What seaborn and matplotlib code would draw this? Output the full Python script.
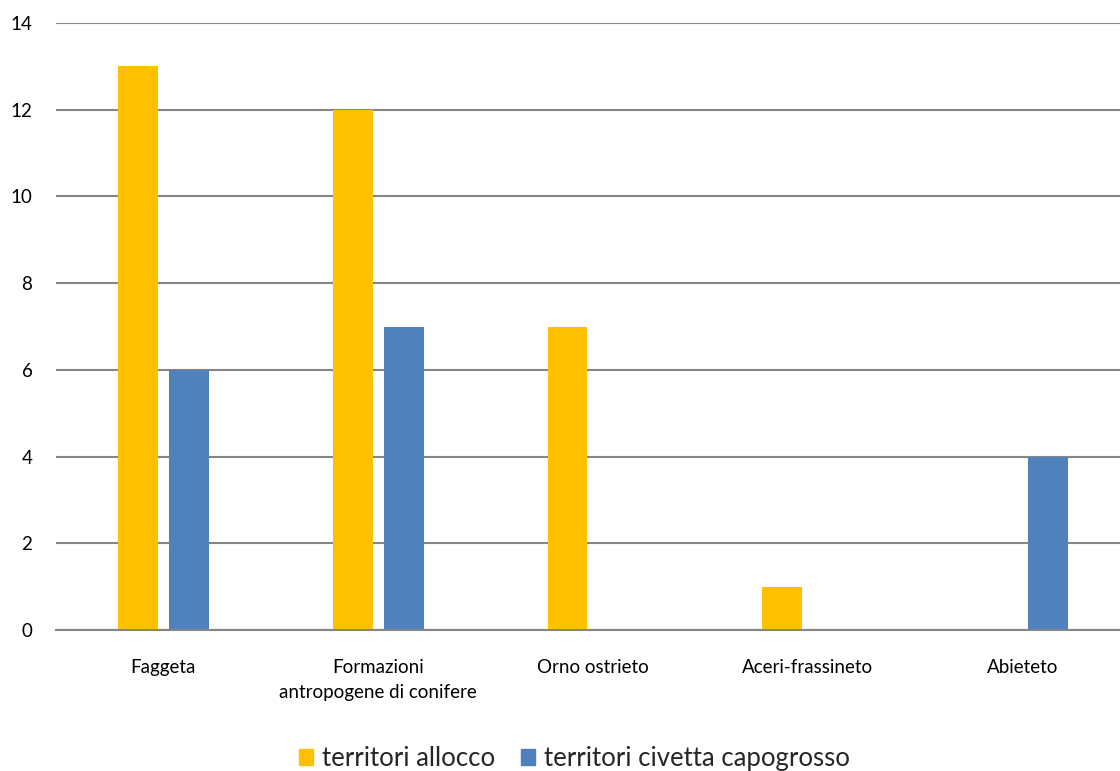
import matplotlib
matplotlib.use("Agg")
import matplotlib.pyplot as plt
import seaborn as sns
import pandas as pd

categories = ["Faggeta", "Formazioni\nantropogene di conifere", "Orno ostrieto",
              "Aceri-frassineto", "Abieteto"]
allocco = [13, 12, 7, 1, 0]
civetta = [6, 7, 0, 0, 4]
series_names = ["territori allocco", "territori civetta capogrosso"]
colors = ["#FFC000", "#4F81BD"]

df = pd.DataFrame({
    "cat": categories * 2,
    "val": allocco + civetta,
    "serie": [series_names[0]] * len(categories) + [series_names[1]] * len(categories),
})

sns.set_theme(style="white")
plt.rcParams["font.family"] = ["Lato", "DejaVu Sans"]

fig = plt.figure(figsize=(11.2, 7.71), dpi=100)
ax = fig.add_axes([0.05, 0.183, 0.959, 0.787])

sns.barplot(data=df, x="cat", y="val", hue="serie", palette=colors,
            width=0.476, gap=0.22, ax=ax, saturation=1, errorbar=None,
            linewidth=0, legend=True)

ax.set_ylim(0, 14)
ax.set_yticks(range(0, 15, 2))
ax.set_xlim(-0.5, 4.5)
ax.yaxis.grid(True, color="#868686", linewidth=1.5)
ax.set_axisbelow(True)
for s in ["left", "right", "top"]:
    ax.spines[s].set_visible(False)
ax.spines["bottom"].set_color("#868686")
ax.spines["bottom"].set_linewidth(1.5)
ax.tick_params(axis="both", length=0, labelsize=13.5, colors="#000000")
ax.tick_params(axis="x", pad=21)
ax.tick_params(axis="y", pad=17)
ax.set_xlabel("")
ax.set_ylabel("")
for lbl in ax.get_xticklabels():
    lbl.set_linespacing(1.6)

ax.legend_.remove()
handles = [plt.Rectangle((0, 0), 1, 1, color=c) for c in colors]
fig.legend(handles, series_names, loc="lower center", ncol=2, frameon=False,
           fontsize=18.5, bbox_to_anchor=(0.513, -0.03), handlelength=0.55,
           handleheight=0.55, handletextpad=0.35, columnspacing=1.0)

fig.savefig("out.png", dpi=100)
